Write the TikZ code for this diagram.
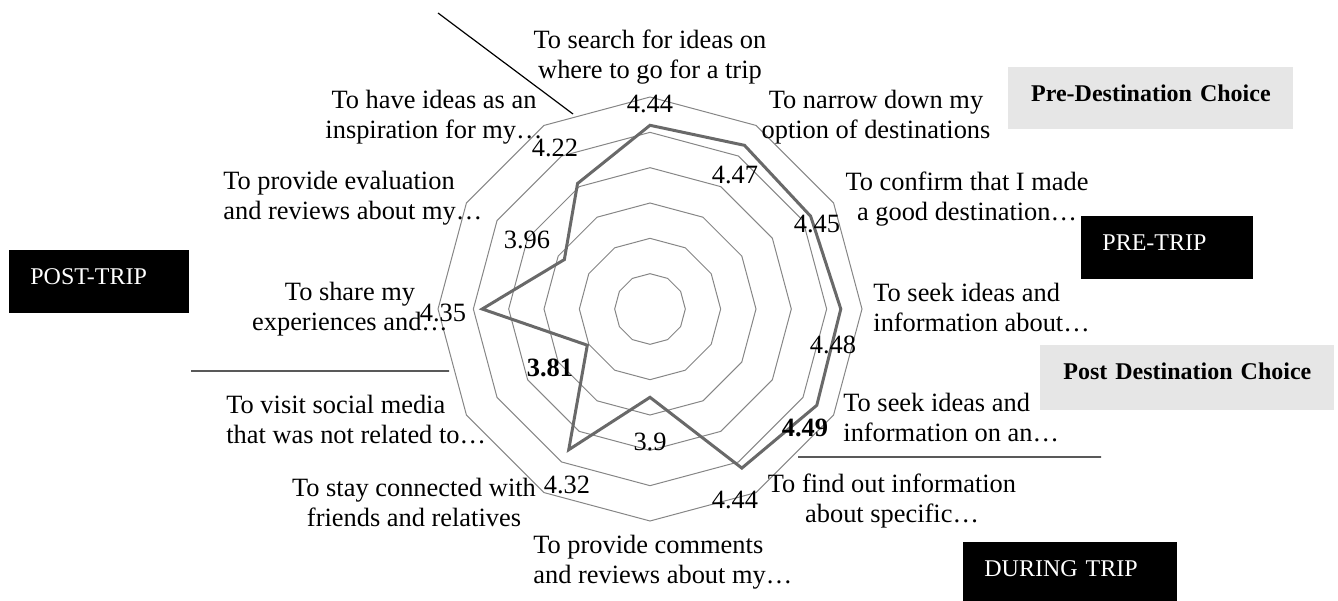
\documentclass[tikz,border=0pt]{standalone}
\usepackage{fontspec}
\setmainfont{Liberation Serif}
\usepackage{tikz}
\usetikzlibrary{
    calc,
    positioning
}
\definecolor{ringgray}{RGB}{134,134,134}
\definecolor{seriesgray}{RGB}{105,105,105}
\definecolor{stagegray}{RGB}{230,230,230}

\begin{document}
\begin{tikzpicture}[x=0.5pt, y=-0.5pt,
    ring/.style={draw=ringgray, line width=0.5pt},
    series/.style={draw=seriesgray, line width=1.5pt, line join=miter},
    divider/.style={draw=black, line width=0.6pt},
    axislabel/.style={inner sep=0pt, align=center, font=\fontsize{13.2}{15}\selectfont},
    axislabelleft/.style={axislabel, anchor=west, align=left},
    score/.style={inner sep=0pt, font=\fontsize{13.2}{15}\selectfont},
    phasebox/.style={fill=black, text=white, anchor=north west, align=left,
        inner xsep=10.5pt, inner ysep=0pt, text height=17pt, text depth=14.5pt,
        font=\fontsize{12}{14}\selectfont},
    stagebox/.style={fill=stagegray, anchor=north west, align=center,
        inner xsep=0pt, inner ysep=0pt, text height=17pt, text depth=14pt,
        font=\bfseries\fontsize{12}{14}\selectfont}
]
    \useasboundingbox (0, 0) rectangle (1338, 600);

    \begin{scope}[shift={(650, 309)}]
        \foreach \ringno in {1,...,6}
            \draw[ring] (-90:{35.33*\ringno})
                \foreach \ang in {-60,-30,...,240} { -- (\ang:{35.33*\ringno}) } -- cycle;
        \draw[series] (-90:183.7) -- (-60:189.0) -- (-30:185.5) -- (0:190.8)
            -- (30:192.6) -- (60:183.7) -- (90:88.3) -- (120:162.5)
            -- (150:72.4) -- (180:167.8) -- (210:98.9) -- (240:144.9) -- cycle;
    \end{scope}

    \node[axislabel] (search) at (650, 57) {To search for ideas on\\where to go for a trip};
    \node[axislabel] (narrow) at (876, 117) {To narrow down my\\option of destinations};
    \node[axislabel] (confirm) at (967, 199) {To confirm that I made\\a good destination…};
    \node[axislabelleft] (seekabout) at (873, 308) {To seek ideas and\\information about…};
    \node[axislabelleft] (seekon) at (843, 418) {To seek ideas and\\information on an…};
    \node[axislabel] (findout) at (892, 501) {To find out information\\about specific…};
    \node[axislabelleft] (comments) at (533, 562) {To provide comments\\and reviews about my…};
    \node[axislabel] (connected) at (414, 502) {To stay connected with\\friends and relatives};
    \node[axislabelleft] (visit) at (226, 420) {To visit social media\\that was not related to…};
    \node[axislabel] (share) at (350, 309) {To share my\\experiences and…};
    \node[axislabelleft] (evaluation) at (223, 198) {To provide evaluation\\and reviews about my…};
    \node[axislabel] (inspiration) at (434, 117) {To have ideas as an\\inspiration for my…};

    \node[score] (searchval) at (650, 104) {4.44};
    \node[score] (narrowval) at (735, 175) {4.47};
    \node[score] (confirmval) at (817, 224) {4.45};
    \node[score] (seekaboutval) at (833, 345) {4.48};
    \node[score, font=\bfseries\fontsize{13.2}{15}\selectfont] (seekonval) at (805, 428) {4.49};
    \node[score] (findoutval) at (735, 500) {4.44};
    \node[score] (commentsval) at (650, 442) {3.9};
    \node[score] (connectedval) at (567, 485) {4.32};
    \node[score, font=\bfseries\fontsize{13.2}{15}\selectfont] (visitval) at (550, 368) {3.81};
    \node[score] (shareval) at (443, 313) {4.35};
    \node[score] (evaluationval) at (527, 240) {3.96};
    \node[score] (inspirationval) at (555, 148) {4.22};

    \node[stagebox, text width=142.5pt] (predest) at (1008, 67) {Pre-Destination Choice};
    \node[stagebox, text width=147pt, text depth=15.5pt] (postdest) at (1040, 345) {Post Destination Choice};
    \node[phasebox, text width=65pt] (pretrip) at (1081, 216) {PRE-TRIP};
    \node[phasebox, text width=86pt] (duringtrip) at (963, 542) {DURING TRIP};
    \node[phasebox, text width=69pt] (posttrip) at (9, 250) {POST-TRIP};

    \coordinate (slant top) at (438, 13);
    \coordinate (slant end) at (573, 114);
    \coordinate (postrule west) at (191, 371);
    \coordinate (postrule east) at (449, 371);
    \coordinate (duringrule west) at (798, 457);
    \coordinate (duringrule east) at (1101, 457);
    \draw[divider]
    (slant top) -- (slant end)
    (postrule west) -- (postrule east)
    (duringrule west) -- (duringrule east);
\end{tikzpicture}
\end{document}
